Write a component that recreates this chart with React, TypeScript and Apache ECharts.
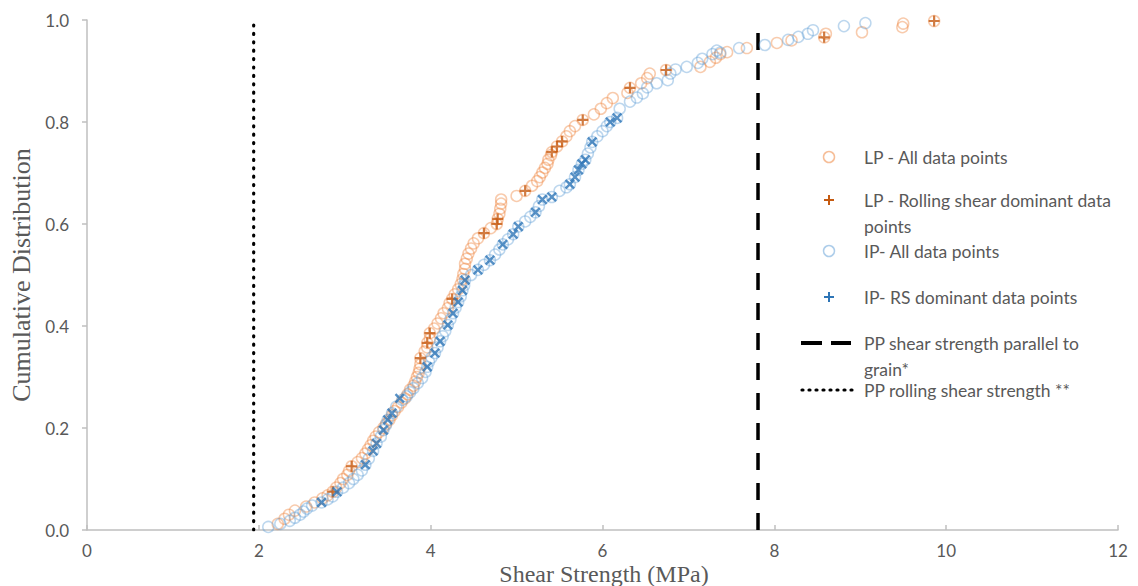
import React, { useEffect, useRef } from "react";
import * as echarts from "echarts";

// LP - All data points [shear strength MPa, cumulative distribution]
const lpAll: [number, number][] = [
  [2.22, 0.012], [2.30, 0.022], [2.35, 0.030], [2.42, 0.038], [2.55, 0.046], [2.65, 0.054], [2.74, 0.062],
  [2.80, 0.068], [2.86, 0.075], [2.90, 0.083], [2.95, 0.092], [2.98, 0.100], [3.03, 0.108], [3.05, 0.116],
  [3.08, 0.125], [3.15, 0.133], [3.20, 0.141], [3.24, 0.150], [3.27, 0.158], [3.30, 0.166], [3.33, 0.175],
  [3.36, 0.183], [3.40, 0.192], [3.45, 0.200], [3.48, 0.208], [3.52, 0.216], [3.55, 0.225], [3.58, 0.233],
  [3.62, 0.241], [3.66, 0.250], [3.70, 0.258], [3.73, 0.266], [3.76, 0.275], [3.80, 0.283], [3.82, 0.291],
  [3.84, 0.300], [3.86, 0.308], [3.87, 0.316], [3.88, 0.325], [3.88, 0.337], [3.93, 0.350], [3.96, 0.358],
  [3.96, 0.367], [3.99, 0.375], [3.99, 0.386], [4.04, 0.395], [4.08, 0.405], [4.12, 0.415], [4.15, 0.425],
  [4.20, 0.435], [4.22, 0.445], [4.25, 0.453], [4.28, 0.462], [4.32, 0.472], [4.35, 0.482], [4.37, 0.492],
  [4.38, 0.502], [4.40, 0.512], [4.40, 0.522], [4.42, 0.532], [4.44, 0.542], [4.47, 0.552], [4.50, 0.562],
  [4.55, 0.572], [4.62, 0.582], [4.70, 0.592], [4.77, 0.600], [4.78, 0.610], [4.80, 0.620], [4.81, 0.630],
  [4.82, 0.640], [4.82, 0.648], [5.00, 0.655], [5.10, 0.665], [5.18, 0.675], [5.24, 0.684], [5.27, 0.692],
  [5.30, 0.701], [5.33, 0.710], [5.36, 0.718], [5.37, 0.726], [5.40, 0.735], [5.41, 0.741], [5.47, 0.752],
  [5.53, 0.762], [5.58, 0.772], [5.62, 0.782], [5.68, 0.792], [5.77, 0.804], [5.90, 0.815], [5.98, 0.826],
  [6.05, 0.837], [6.12, 0.847], [6.29, 0.857], [6.32, 0.867], [6.45, 0.876], [6.52, 0.886], [6.55, 0.895],
  [6.74, 0.902], [7.14, 0.908], [7.25, 0.918], [7.32, 0.926], [7.37, 0.933], [7.45, 0.937], [7.68, 0.945],
  [8.03, 0.955], [8.20, 0.960], [8.58, 0.966], [8.60, 0.973], [9.02, 0.976], [9.49, 0.986], [9.50, 0.993],
  [9.86, 0.998],
];

// LP - Rolling shear dominant data points
const lpRS: [number, number][] = [
  [2.86, 0.075], [3.08, 0.125], [3.88, 0.337], [3.96, 0.367], [3.99, 0.386], [4.25, 0.453], [4.62, 0.582],
  [4.77, 0.600], [4.78, 0.610], [5.10, 0.665], [5.41, 0.741], [5.47, 0.752], [5.53, 0.762], [5.77, 0.804],
  [6.32, 0.867], [6.74, 0.902], [8.58, 0.966], [9.86, 0.998],
];

// IP - All data points
const ipAll: [number, number][] = [
  [2.11, 0.006], [2.25, 0.012], [2.36, 0.018], [2.42, 0.024], [2.48, 0.030], [2.52, 0.036], [2.56, 0.042],
  [2.62, 0.048], [2.73, 0.054], [2.80, 0.060], [2.86, 0.066], [2.91, 0.075], [2.98, 0.083], [3.05, 0.092],
  [3.10, 0.100], [3.15, 0.108], [3.20, 0.117], [3.24, 0.128], [3.28, 0.140], [3.33, 0.155], [3.37, 0.170],
  [3.42, 0.183], [3.45, 0.196], [3.48, 0.206], [3.50, 0.216], [3.55, 0.229], [3.60, 0.242], [3.67, 0.255],
  [3.72, 0.262], [3.76, 0.270], [3.80, 0.278], [3.85, 0.288], [3.90, 0.298], [3.94, 0.310], [3.96, 0.320],
  [3.98, 0.330], [4.01, 0.338], [4.05, 0.347], [4.08, 0.358], [4.11, 0.370], [4.14, 0.380], [4.17, 0.390],
  [4.20, 0.402], [4.23, 0.413], [4.26, 0.425], [4.29, 0.436], [4.32, 0.447], [4.35, 0.458], [4.37, 0.470],
  [4.39, 0.480], [4.40, 0.490], [4.47, 0.500], [4.55, 0.510], [4.62, 0.520], [4.69, 0.529], [4.75, 0.540],
  [4.80, 0.550], [4.84, 0.560], [4.90, 0.570], [4.96, 0.580], [5.02, 0.595], [5.10, 0.605], [5.16, 0.614],
  [5.22, 0.623], [5.26, 0.635], [5.30, 0.648], [5.41, 0.653], [5.50, 0.665], [5.58, 0.672], [5.62, 0.678],
  [5.68, 0.692], [5.72, 0.706], [5.76, 0.718], [5.80, 0.726], [5.83, 0.738], [5.86, 0.750], [5.88, 0.761],
  [5.94, 0.772], [6.00, 0.782], [6.05, 0.792], [6.09, 0.800], [6.17, 0.808], [6.20, 0.826], [6.32, 0.840],
  [6.40, 0.848], [6.47, 0.856], [6.52, 0.868], [6.63, 0.876], [6.76, 0.882], [6.79, 0.895], [6.85, 0.903],
  [6.98, 0.908], [7.11, 0.916], [7.16, 0.924], [7.28, 0.933], [7.33, 0.940], [7.37, 0.936], [7.59, 0.945],
  [7.89, 0.951], [8.16, 0.961], [8.28, 0.967], [8.39, 0.973], [8.45, 0.980], [8.81, 0.988], [9.06, 0.994],
];

// IP - RS dominant data points
const ipRS: [number, number][] = [
  [2.73, 0.054], [2.91, 0.075], [3.24, 0.128], [3.33, 0.155], [3.37, 0.170], [3.45, 0.196], [3.50, 0.216],
  [3.55, 0.229], [3.64, 0.258], [3.96, 0.320], [4.05, 0.347], [4.11, 0.370], [4.20, 0.402], [4.26, 0.425],
  [4.32, 0.447], [4.37, 0.470], [4.40, 0.490], [4.55, 0.510], [4.69, 0.529], [4.84, 0.560], [4.96, 0.580],
  [5.02, 0.595], [5.22, 0.623], [5.30, 0.648], [5.41, 0.653], [5.62, 0.678], [5.68, 0.692], [5.72, 0.706],
  [5.76, 0.718], [5.80, 0.726], [5.88, 0.761], [6.09, 0.800], [6.17, 0.808],
];

// Reference strengths (MPa)
const ppParallelToGrain = 7.81;
const ppRollingShear = 1.94;

const legendLabels = [
  ["LP - All data points"],
  ["LP - Rolling shear dominant data", "points"],
  ["IP- All data points"],
  ["IP- RS dominant data points"],
  ["PP shear strength parallel to", "grain*"],
  ["PP rolling shear strength **"],
];

const xTitle = "Shear Strength (MPa)";
const yTitle = "Cumulative Distribution";

const PLUS = "path://M4,0H6V4H10V6H6V10H4V6H0V4H4Z";
const LP_CIRCLE = "rgba(237,125,49,0.5)";
const IP_CIRCLE = "rgba(91,155,213,0.5)";
const LP_PLUS = "#C55A11";
const IP_PLUS = "#2E75B6";
const TEXT = "#595959";
const AXIS = "#BFBFBF";
const LEG_FONT = "17.5px Lato, 'Open Sans', sans-serif";

export default function App() {
  const ref = useRef<HTMLDivElement>(null);
  useEffect(() => {
    if (!ref.current) return;
    const chart = echarts.init(ref.current, undefined, { renderer: "svg" });

    const legendY = [157, 200, 251, 297, 343, 390];
    const symX = 829;
    const textX = 864;
    const graphics: any[] = [];
    legendLabels.forEach((lines, i) => {
      lines.forEach((t, j) => {
        graphics.push({
          type: "text",
          x: textX,
          y: legendY[i] + j * 26,
          style: { text: t, fill: TEXT, font: LEG_FONT, verticalAlign: "middle", align: "left" },
        });
      });
    });
    // x axis title
    graphics.push({
      type: "text",
      x: 604,
      y: 573.5,
      style: { text: xTitle, fill: TEXT, font: "24px 'Liberation Serif', serif", verticalAlign: "middle", align: "center" },
    });
    // legend symbols
    graphics.push({ type: "circle", shape: { cx: symX, cy: legendY[0], r: 5.5 }, style: { fill: "none", stroke: LP_CIRCLE, lineWidth: 1.5 } });
    graphics.push({ type: "circle", shape: { cx: symX, cy: legendY[2], r: 5.5 }, style: { fill: "none", stroke: IP_CIRCLE, lineWidth: 1.5 } });
    [[1, LP_PLUS], [3, IP_PLUS]].forEach(([i, c]: any) => {
      graphics.push({ type: "line", shape: { x1: symX - 5, y1: legendY[i], x2: symX + 5, y2: legendY[i] }, style: { stroke: c, lineWidth: 2 } });
      graphics.push({ type: "line", shape: { x1: symX, y1: legendY[i] - 5, x2: symX, y2: legendY[i] + 5 }, style: { stroke: c, lineWidth: 2 } });
    });
    graphics.push({ type: "line", shape: { x1: 801, y1: legendY[4], x2: 851, y2: legendY[4] }, style: { stroke: "#000", lineWidth: 4, lineDash: [21, 9] } });
    graphics.push({ type: "line", shape: { x1: 802, y1: legendY[5], x2: 852, y2: legendY[5] }, style: { stroke: "#000", lineWidth: 3.2, lineDash: [1, 6], lineCap: "round" } });

    chart.setOption({
      animation: false,
      backgroundColor: "#fff",
      grid: { left: 87, right: 20, top: 20, bottom: 56, containLabel: false, outerBoundsMode: "none" },
      xAxis: {
        type: "value",
        min: 0,
        max: 12,
        interval: 2,
        axisLine: { show: true, onZero: false, lineStyle: { color: AXIS, width: 1.5 } },
        axisTick: { show: true, inside: true, length: 5, lineStyle: { color: AXIS, width: 1.5 } },
        splitLine: { show: false },
        axisLabel: { color: TEXT, fontSize: 17, fontFamily: "Lato", margin: 12 },
      },
      yAxis: {
        type: "value",
        min: 0,
        max: 1,
        interval: 0.2,
        name: yTitle,
        nameLocation: "middle",
        nameRotate: 90,
        nameGap: 52,
        nameTextStyle: { color: TEXT, fontFamily: "Liberation Serif", fontSize: 26 },
        axisLine: { show: true, lineStyle: { color: AXIS, width: 1.5 } },
        axisTick: { show: true, inside: false, length: 5, lineStyle: { color: AXIS, width: 1.5 } },
        splitLine: { show: false },
        axisLabel: { color: TEXT, fontSize: 17, fontFamily: "Lato", margin: 18, formatter: (v: number) => v.toFixed(1) },
      },
      series: [
        {
          name: "PP rolling shear strength **",
          type: "line",
          data: [[ppRollingShear, 0], [ppRollingShear, 1]],
          symbol: "none",
          lineStyle: { color: "#000", width: 3.2, type: [1, 7.4], cap: "round" },
          z: 1,
        },
        {
          name: "PP shear strength parallel to grain*",
          type: "line",
          data: [[ppParallelToGrain, 0], [ppParallelToGrain, 1]],
          symbol: "none",
          lineStyle: { color: "#000", width: 3.5, type: [17, 13] },
          z: 1,
        },
        {
          name: "LP - All data points",
          type: "scatter",
          data: lpAll,
          symbol: "circle",
          symbolSize: 11,
          itemStyle: { color: "rgba(0,0,0,0)", borderColor: LP_CIRCLE, borderWidth: 1.5 },
          z: 2,
        },
        {
          name: "IP- All data points",
          type: "scatter",
          data: ipAll,
          symbol: "circle",
          symbolSize: 11,
          itemStyle: { color: "rgba(0,0,0,0)", borderColor: IP_CIRCLE, borderWidth: 1.5 },
          z: 2,
        },
        {
          name: "LP - Rolling shear dominant data points",
          type: "scatter",
          data: lpRS,
          symbol: PLUS,
          symbolSize: 11,
          itemStyle: { color: LP_PLUS },
          z: 3,
        },
        {
          name: "IP- RS dominant data points",
          type: "scatter",
          data: ipRS,
          symbol: PLUS,
          symbolSize: 12,
          symbolRotate: 45,
          itemStyle: { color: IP_PLUS },
          z: 4,
        },
      ],
      graphic: graphics,
    });
    return () => chart.dispose();
  }, []);
  return <div ref={ref} style={{ width: 1138, height: 586, position: "absolute", left: 0, top: 0 }} />;
}
